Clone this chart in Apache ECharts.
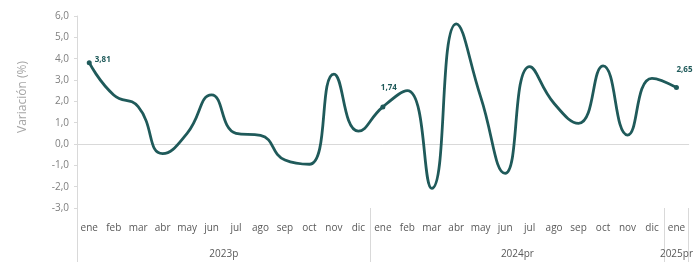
<!DOCTYPE html>
<html>
<head>
<meta charset="utf-8">
<script src="https://cdn.jsdelivr.net/npm/echarts@6/dist/echarts.min.js"></script>
<style>
  html, body { margin: 0; padding: 0; background: #fff; }
  #chart { width: 696px; height: 262px; }
</style>
</head>
<body>
<div id="chart"></div>
<script>
// meses (25 categorias: 2023p, 2024pr, 2025pr)
const months = ['ene', 'feb', 'mar', 'abr', 'may', 'jun', 'jul', 'ago', 'sep', 'oct', 'nov', 'dic',
  'ene', 'feb', 'mar', 'abr', 'may', 'jun', 'jul', 'ago', 'sep', 'oct', 'nov', 'dic',
  'ene']
// variacion (%)
const values = [3.81, 2.3, 1.75, -0.45, 0.5, 2.3, 0.5, 0.4, -0.75, -0.95, 3.28, 0.6,
  1.74, 2.5, -2.08, 5.63, 2.2, -1.38, 3.63, 1.9, 0.97, 3.66, 0.42, 3.08,
  2.65]
// grupos del eje: nombre, posicion en medios meses
const groups = ['2023p', '2024pr', '2025pr']
const groupPos = [12, 36, 49]
const groupSeps = [0, 24, 48, 50]
// puntos con etiqueta
const labelled = [0, 12, 24]

const lineColor = '#1f5a5a'
const font = 'Open Sans'

const halfSlots = []
for (let k = 0; k <= 50; k++) halfSlots.push(String(k))

const seriesData = values.map((v, i) => {
  const item = { value: v }
  if (i === 0) {
    item.label = { show: true, position: 'right', offset: [-2, -3] }
  } else if (i === 12) {
    item.label = { show: true, position: 'top', offset: [6, -8] }
  } else if (i === 24) {
    item.label = { show: true, position: 'top', offset: [8, -6] }
  }
  return item
})

const chart = echarts.init(document.getElementById('chart'))
chart.setOption({
  animation: false,
  textStyle: { fontFamily: font },
  grid: { left: 77, right: 4, top: 16, bottom: 54 },
  xAxis: [
    {
      type: 'category',
      data: months,
      boundaryGap: true,
      axisLine: { show: false, onZero: false },
      axisTick: { show: false },
      axisLabel: { color: '#595959', fontSize: 10, margin: 15, interval: 0 }
    },
    {
      type: 'category',
      data: halfSlots,
      boundaryGap: false,
      position: 'bottom',
      offset: 54,
      axisLine: { show: false, onZero: false },
      axisTick: {
        show: true,
        inside: true,
        length: 54,
        interval: (idx) => groupSeps.indexOf(idx) >= 0,
        lineStyle: { color: '#d9d9d9' }
      },
      axisLabel: {
        show: true,
        inside: true,
        margin: 3,
        color: '#595959',
        fontSize: 10,
        interval: 0,
        formatter: (val, idx) => {
          const g = groupPos.indexOf(idx)
          return g >= 0 ? groups[g] : ''
        }
      }
    },
    {
      // linea del cero
      type: 'category',
      data: months,
      position: 'bottom',
      axisLine: { show: true, onZero: true, lineStyle: { color: '#d9d9d9' } },
      axisTick: { show: false },
      axisLabel: { show: false }
    }
  ],
  yAxis: {
    type: 'value',
    min: -3,
    max: 6,
    interval: 1,
    name: 'Variación (%)',
    nameLocation: 'middle',
    nameGap: 48,
    nameTextStyle: { color: '#a6a6a6', fontSize: 12, padding: [0, 0, 0, 30] },
    axisLine: { show: true, lineStyle: { color: '#d9d9d9' } },
    axisTick: { show: true, length: 3, lineStyle: { color: '#d9d9d9' } },
    splitLine: { show: false },
    axisLabel: {
      color: '#7f7f7f',
      fontSize: 10,
      margin: 8,
      formatter: (v) => v.toFixed(1).replace('.', ',')
    }
  },
  series: [
    {
      type: 'line',
      data: seriesData,
      smooth: 0.5,
      showSymbol: true,
      symbol: 'circle',
      symbolSize: (v, p) => labelled.indexOf(p.dataIndex) >= 0 ? 5 : 0,
      itemStyle: { color: lineColor },
      lineStyle: { color: lineColor, width: 2.8 },
      label: {
        show: false,
        color: lineColor,
        fontSize: 8,
        fontWeight: 'bold',
        formatter: (p) => p.value.toFixed(2).replace('.', ',')
      }
    }
  ]
})
</script>
</body>
</html>
